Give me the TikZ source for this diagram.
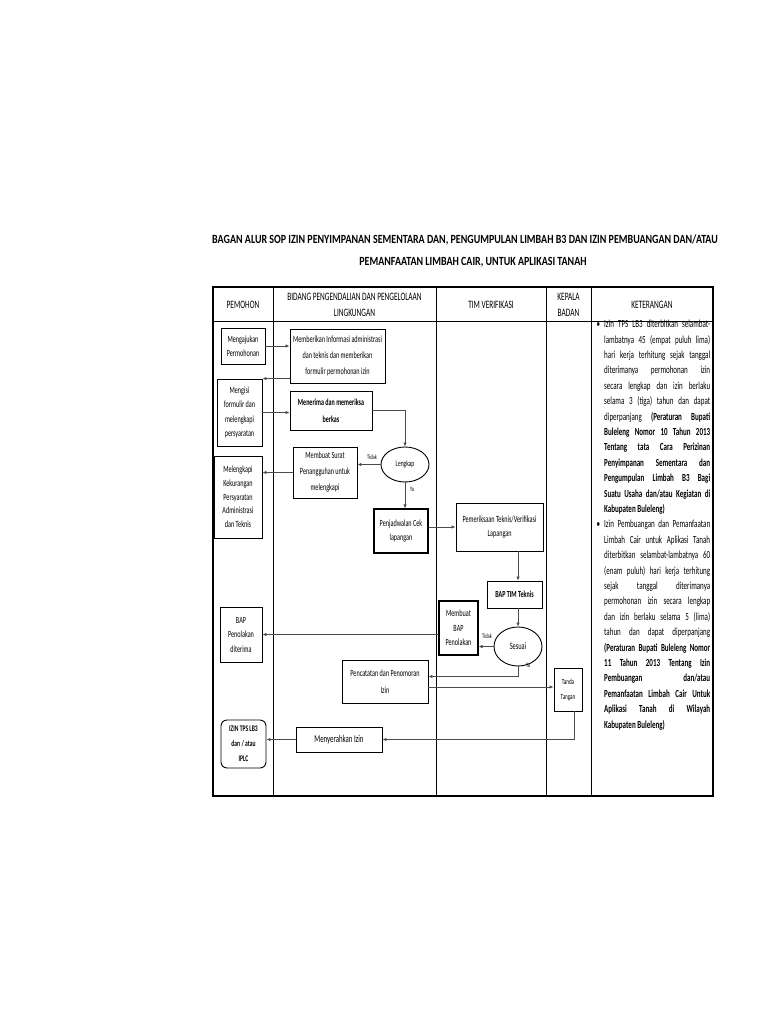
\documentclass[tikz,border=0pt]{standalone}
\usepackage{fontspec}
\setmainfont{Carlito}[FakeStretch=0.8]
\newfontfamily\nf{Carlito}[FakeStretch=0.65]
\usetikzlibrary{shapes.geometric,arrows.meta}

\newlength\ketw
\setlength\ketw{106pt}
\newcommand\kline[1]{\makebox[\ketw][s]{#1}}
\newcommand\klast[1]{\makebox[\ketw][l]{#1}}
\newcommand\kbul{\llap{\textbullet\hspace{4pt}}}

\begin{document}
\begin{tikzpicture}[x=1pt,y=-1pt,>={Latex[length=4pt,width=3.5pt]},
  box/.style={draw,line width=0.9pt,align=center,inner sep=1pt,font=\nf\fontsize{9.5}{14.5}\selectfont},
  oval/.style={draw,ellipse,line width=0.9pt,inner sep=0pt,font=\nf\fontsize{8.5}{14.5}\selectfont},
  hdr/.style={align=center,inner sep=0pt,font=\nf\fontsize{11.3}{16}\selectfont},
  conn/.style={->,draw=black!70,line width=0.8pt},
  lbl/.style={inner sep=1pt,font=\nf\fontsize{6.8}{7}\selectfont}]
  \useasboundingbox[fill=white] (0,0) rectangle (768,1024);

  % title
  \node[font=\bfseries\fontsize{12.5}{14}\selectfont] (title1) at (465,240)
    {BAGAN ALUR SOP IZIN PENYIMPANAN SEMENTARA DAN, PENGUMPULAN LIMBAH B3 DAN IZIN PEMBUANGAN DAN/ATAU};
  \node[font=\bfseries\fontsize{12.5}{14}\selectfont] (title2) at (473,262)
    {PEMANFAATAN LIMBAH CAIR, UNTUK APLIKASI TANAH};

  % table
  \draw[line width=1.2pt] (213,287) rectangle (713,796);
  \draw[line width=1pt] (213,321) -- (713,321);
  \foreach \cx in {273,436,546,591}
    \draw[line width=0.8pt] (\cx,287) -- (\cx,796);
  \node[hdr] (hpemohon) at (243,305) {PEMOHON};
  \node[hdr] (hbidang) at (354.5,305) {BIDANG PENGENDALIAN DAN PENGELOLAAN\\LINGKUNGAN};
  \node[hdr] (htim) at (491,305) {TIM VERIFIKASI};
  \node[hdr] (hkepala) at (568.5,305) {KEPALA\\BADAN};
  \node[hdr] (hket) at (652,305) {KETERANGAN};

  % steps
  \node[box,minimum width=44,minimum height=36] (mengajukan) at (243,346) {Mengajukan\\Permohonan};
  \node[box,minimum width=95,minimum height=54,font=\nf\fontsize{9.5}{16}\selectfont] (memberi) at (337.5,356)
    {Memberikan Informasi administrasi\\dan teknis dan memberikan\\formulir permohonan izin};
  \node[box,minimum width=45,minimum height=67] (mengisi) at (239.5,412.5) {Mengisi\\formulir dan\\melengkapi\\persyaratan};
  \node[box,minimum width=82,minimum height=39,font=\nf\bfseries\fontsize{9.3}{17}\selectfont] (menerima) at (331,410.5)
    {Menerima dan memeriksa\\berkas};
  \node[oval,minimum width=48,minimum height=35] (lengkap) at (405,464.5) {Lengkap};
  \node[box,minimum width=64,minimum height=51,font=\nf\fontsize{9.5}{16}\selectfont] (surat) at (325,472.5)
    {Membuat Surat\\Penangguhan untuk\\melengkapi};
  \node[box,minimum width=48,minimum height=82,font=\nf\fontsize{9.5}{13.7}\selectfont] (melengkapi) at (238,497)
    {Melengkapi\\Kekurangan\\Persyaratan\\Administrasi\\dan Teknis};
  \node[box,minimum width=54,minimum height=44,line width=1.1pt] (jadwal) at (401,531) {Penjadwalan Cek\\lapangan};
  \node[box,minimum width=87,minimum height=48] (periksa) at (499.5,527) {Pemeriksaan Teknis/Verifikasi\\Lapangan};
  \node[box,minimum width=55,minimum height=27,font=\nf\bfseries\fontsize{9.3}{10}\selectfont] (baptim) at (514.5,594.5)
    {BAP TIM Teknis};
  \node[oval,minimum width=48,minimum height=39,font=\nf\fontsize{9.8}{10}\selectfont] (sesuai) at (518,646.5) {Sesuai};
  \node[box,minimum width=39,minimum height=54,line width=1.1pt] (bapbuat) at (458.5,628) {Membuat\\BAP\\Penolakan};
  \node[box,minimum width=42,minimum height=55] (bapterima) at (241,634.5) {BAP\\Penolakan\\diterima};
  \node[box,minimum width=86,minimum height=43,font=\nf\fontsize{9.5}{17}\selectfont] (catat) at (385,681.5)
    {Pencatatan dan Penomoran\\Izin};
  \node[box,minimum width=28,minimum height=43,font=\nf\fontsize{7.8}{15}\selectfont] (ttd) at (568,689.5) {Tanda\\Tangan};
  \node[box,minimum width=86,minimum height=25,font=\nf\fontsize{10.5}{11}\selectfont] (serah) at (339,739.5) {Menyerahkan Izin};
  \node[box,rounded corners=6pt,minimum width=45,minimum height=48,font=\nf\bfseries\fontsize{8.6}{15}\selectfont] (izin)
    at (243.5,744) {IZIN TPS LB3\\dan / atau\\IPLC};

  % connectors
  \draw[conn] (mengajukan.east) -- (mengajukan.east -| memberi.west);
  \draw[conn] (memberi.west |- mengisi.north east) -- (mengisi.north east);
  \draw[conn] (mengisi.east) -- (mengisi.east -| menerima.west);
  \draw[conn] (menerima.east) -| (lengkap.north);
  \draw[conn] (lengkap.west) -- (lengkap.west -| surat.east);
  \node[lbl] (tidak1) at (372,457) {Tidak};
  \draw[conn] (surat.west) -- (surat.west -| melengkapi.east);
  \draw[conn] (lengkap.south) -- (lengkap.south |- jadwal.north);
  \node[lbl] (ya1) at (412,489) {Ya};
  \draw[conn] (periksa.west -| jadwal.east) -- (periksa.west);
  \draw[conn] (sesuai |- periksa.south) -- (sesuai |- baptim.north);
  \draw[conn] (sesuai |- baptim.south) -- (sesuai.north);
  \draw[conn] (sesuai.west) -- (sesuai.west -| bapbuat.east);
  \node[lbl] (tidak2) at (487,636) {Tidak};
  \draw[conn] (bapterima.east -| bapbuat.west) -- (bapterima.east);
  \coordinate (catin) at ([yshift=5pt]catat.east);
  \coordinate (catout) at ([yshift=-5.5pt]catat.east);
  \draw[conn] (sesuai.south) |- (catin);
  \node[lbl] (ya2) at (528,665) {Ya};
  \draw[conn] (catout) -- (catout -| ttd.west);
  \coordinate (ttdout) at ([xshift=6pt]ttd.south);
  \draw[conn] (ttdout) |- (serah.east);
  \draw[conn] (serah.west) -- (serah.west -| izin.east);

  % keterangan
  \node[anchor=north west,inner sep=0pt,align=left,font=\nf\fontsize{10.8}{15.4}\selectfont] (ket) at (604,320) {%
    \kbul\kline{Izin TPS LB3 diterbitkan selambat-}\\
    \kline{lambatnya 45 (empat puluh lima)}\\
    \kline{hari kerja terhitung sejak tanggal}\\
    \kline{diterimanya permohonan izin}\\
    \kline{secara lengkap dan izin berlaku}\\
    \kline{selama 3 (tiga) tahun dan dapat}\\
    \kline{diperpanjang \textbf{(Peraturan Bupati}}\\
    \kline{\textbf{Buleleng Nomor 10 Tahun 2013}}\\
    \kline{\textbf{Tentang tata Cara Perizinan}}\\
    \kline{\textbf{Penyimpanan Sementara dan}}\\
    \kline{\textbf{Pengumpulan Limbah B3 Bagi}}\\
    \kline{\textbf{Suatu Usaha dan/atau Kegiatan di}}\\
    \klast{\textbf{Kabupaten Buleleng)}}\\
    \kbul\kline{Izin Pembuangan dan Pemanfaatan}\\
    \kline{Limbah Cair untuk Aplikasi Tanah}\\
    \kline{diterbitkan selambat-lambatnya 60}\\
    \kline{(enam puluh) hari kerja terhitung}\\
    \kline{sejak tanggal diterimanya}\\
    \kline{permohonan izin secara lengkap}\\
    \kline{dan izin berlaku selama 5 (lima)}\\
    \kline{tahun dan dapat diperpanjang}\\
    \kline{\textbf{(Peraturan Bupati Buleleng Nomor}}\\
    \kline{\textbf{11 Tahun 2013 Tentang Izin}}\\
    \kline{\textbf{Pembuangan dan/atau}}\\
    \kline{\textbf{Pemanfaatan Limbah Cair Untuk}}\\
    \kline{\textbf{Aplikasi Tanah di Wilayah}}\\
    \klast{\textbf{Kabupaten Buleleng)}}};
\end{tikzpicture}
\end{document}
